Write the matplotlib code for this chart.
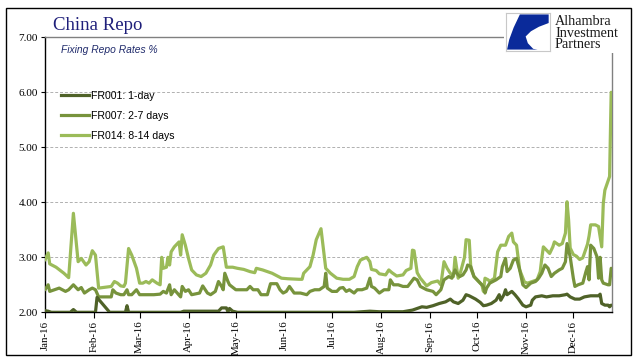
import matplotlib
matplotlib.use("Agg")
import matplotlib.pyplot as plt
import matplotlib.dates as mdates
from matplotlib.patches import Rectangle, Polygon
from matplotlib.lines import Line2D
import pandas as pd

# ---------------- data ----------------
fr014_dates = ["01-01","01-03","01-04","01-08","01-13","01-16","01-19","01-22","01-24","01-26","01-27",
               "01-29","01-31","02-02","02-04","02-12","02-14","02-16","02-18","02-20","02-21","02-23",
               "02-25","02-28","03-01","03-03","03-05","03-07","03-09","03-12","03-14","03-15","03-16",
               "03-18","03-19","03-20","03-21","03-23","03-26","03-27","03-28","03-30","04-01","04-03",
               "04-06","04-09","04-12","04-15","04-17","04-20","04-23","04-24","04-25","04-29","05-02",
               "05-06","05-08","05-10","05-13","05-14","05-18","05-20","05-24","05-28","05-30","06-03",
               "06-10","06-12","06-13","06-17","06-19","06-21","06-24","06-27","06-30","07-04","07-08",
               "07-12","07-15","07-17","07-19","07-23","07-25","07-26","07-29","07-31","08-04","08-06",
               "08-08","08-11","08-15","08-17","08-20","08-21","08-22","08-24","08-26","08-30","09-02",
               "09-06","09-08","09-10","09-12","09-14","09-16","09-17","09-19","09-20","09-23","09-24",
               "09-26","09-27","09-29","10-02","10-04","10-05","10-06","10-08","10-09","10-12","10-14",
               "10-16","10-19","10-21","10-23","10-24","10-26","10-27","10-28","10-31","11-02","11-05",
               "11-08","11-10","11-11","11-12","11-14","11-16","11-18","11-19","11-22","11-24","11-26",
               "11-27","11-28","11-29","12-01","12-03","12-05","12-07","12-10","12-11","12-12","12-15",
               "12-17","12-19","12-20","12-21","12-24","12-25"]
fr014_vals = [2.95,3.08,2.88,2.82,2.71,2.63,3.80,2.92,2.98,2.90,2.86,
              2.92,3.12,3.04,2.44,2.47,2.56,2.53,2.48,2.47,2.53,3.16,
              3.04,2.80,2.53,2.53,2.56,2.53,2.59,2.53,2.50,3.00,2.80,
              2.82,3.00,2.86,3.10,3.19,3.28,3.04,3.41,3.22,2.98,2.77,
              2.68,2.65,2.71,2.86,3.04,3.16,3.19,3.00,2.82,2.82,2.80,
              2.78,2.76,2.74,2.72,2.80,2.77,2.75,2.71,2.65,2.62,2.61,
              2.60,2.60,2.71,2.83,3.04,3.32,3.52,2.80,2.71,2.62,2.60,
              2.60,2.65,2.83,2.95,3.00,2.92,2.78,2.76,2.70,2.68,2.77,
              2.72,2.66,2.68,2.76,2.80,3.13,3.12,2.72,2.62,2.48,2.54,
              2.57,2.50,2.92,2.80,2.71,2.65,3.00,2.62,2.68,3.00,3.32,
              3.31,2.80,2.65,2.56,2.50,2.38,2.62,2.59,2.56,2.62,3.10,
              3.22,3.22,3.38,3.44,3.28,3.22,3.00,2.77,2.55,2.53,2.56,
              2.59,2.74,2.98,3.19,3.13,3.07,3.19,3.28,3.22,3.25,3.44,
              4.01,3.68,3.17,3.05,3.02,2.96,2.99,3.24,3.39,3.59,3.59,
              3.56,3.19,3.98,4.22,4.47,6.00]

fr007_dates = ["01-01","01-03","01-04","01-07","01-10","01-14","01-16","01-19","01-22","01-24","01-26",
               "01-29","01-31","02-02","02-04","02-12","02-13","02-15","02-18","02-20","02-22","02-23",
               "02-25","02-28","03-01","03-06","03-10","03-14","03-16","03-18","03-20","03-21","03-23",
               "03-27","03-28","03-30","04-01","04-03","04-08","04-10","04-13","04-15","04-18","04-20",
               "04-22","04-23","04-24","04-26","04-27","05-01","05-04","05-08","05-10","05-12","05-15",
               "05-17","05-21","05-23","05-27","05-29","05-31","06-02","06-04","06-07","06-11","06-15",
               "06-17","06-20","06-23","06-26","06-27","06-28","07-01","07-04","07-06","07-08","07-10",
               "07-12","07-15","07-17","07-20","07-23","07-25","07-26","07-28","07-31","08-03","08-06",
               "08-07","08-09","08-12","08-15","08-18","08-22","08-24","08-26","08-30","09-03","09-05",
               "09-08","09-10","09-13","09-15","09-17","09-18","09-20","09-22","09-24","09-25","09-27",
               "09-29","10-02","10-05","10-06","10-07","10-09","10-13","10-16","10-17","10-19","10-20",
               "10-22","10-24","10-26","10-28","10-30","11-01","11-04","11-07","11-09","11-11","11-13",
               "11-15","11-17","11-19","11-22","11-24","11-26","11-27","11-29","12-01","12-02","12-04",
               "12-07","12-09","12-10","12-11","12-12","12-14","12-16","12-17","12-18","12-19","12-20",
               "12-23","12-24","12-25"]
fr007_vals = [2.41,2.50,2.38,2.41,2.44,2.38,2.41,2.50,2.41,2.45,2.35,
              2.41,2.44,2.41,2.28,2.28,2.41,2.35,2.32,2.32,2.41,2.32,
              2.32,2.41,2.32,2.32,2.32,2.33,2.38,2.35,2.50,2.32,2.41,
              2.28,2.47,2.38,2.41,2.32,2.35,2.48,2.35,2.32,2.38,2.56,
              2.47,2.41,2.71,2.56,2.50,2.41,2.41,2.41,2.47,2.41,2.41,
              2.32,2.32,2.52,2.52,2.41,2.35,2.38,2.47,2.35,2.35,2.32,
              2.38,2.41,2.41,2.47,2.71,2.44,2.38,2.38,2.44,2.45,2.38,
              2.41,2.35,2.41,2.41,2.44,2.62,2.47,2.44,2.35,2.41,2.41,
              2.59,2.50,2.50,2.47,2.47,2.62,2.59,2.47,2.41,2.38,2.32,
              2.41,2.59,2.65,2.62,2.77,2.71,2.65,2.68,2.77,2.86,2.83,
              2.65,2.56,2.47,2.35,2.44,2.53,2.59,2.65,2.83,2.98,2.74,
              2.80,2.95,2.98,2.77,2.50,2.45,2.53,2.56,2.62,2.71,2.86,
              2.80,2.65,2.71,2.77,2.80,2.92,3.25,3.01,2.62,2.47,2.50,
              2.53,2.74,2.83,2.59,3.22,3.16,3.01,2.62,3.00,2.59,2.53,
              2.50,2.50,2.80]

fr001_dates = ["01-01","01-03","01-05","01-17","01-19","01-21","02-02","02-03","02-11","02-21","02-22",
               "02-23","03-27","03-29","04-20","04-22","04-25","04-26","04-27","04-29","05-02","07-15",
               "07-25","07-31","08-09","08-15","08-21","08-24","08-27","08-30","09-03","09-07","09-11",
               "09-14","09-16","09-19","09-22","09-24","09-26","09-30","10-03","10-05","10-07","10-10",
               "10-13","10-15","10-16","10-18","10-19","10-20","10-23","10-25","10-27","10-30","11-01",
               "11-04","11-05","11-07","11-11","11-14","11-18","11-22","11-26","11-27","11-29","12-02",
               "12-05","12-08","12-12","12-17","12-18","12-19","12-21","12-23","12-24","12-25"]
fr001_vals = [2.03,2.02,2.00,2.00,2.05,2.00,2.00,2.27,2.00,2.00,2.12,
              2.00,2.00,2.02,2.02,2.08,2.08,2.01,2.07,2.02,2.00,2.00,
              2.02,2.01,2.01,2.01,2.04,2.07,2.10,2.09,2.12,2.16,2.19,
              2.24,2.19,2.16,2.22,2.32,2.30,2.24,2.18,2.12,2.13,2.16,
              2.22,2.32,2.22,2.32,2.41,2.32,2.38,2.32,2.25,2.13,2.10,
              2.13,2.22,2.28,2.30,2.28,2.30,2.30,2.32,2.33,2.28,2.24,
              2.24,2.28,2.30,2.30,2.33,2.16,2.13,2.13,2.10,2.13]

series_labels = ["FR001: 1-day", "FR007: 2-7 days", "FR014: 8-14 days"]
series_colors = ["#4f6228", "#77933c", "#9bbb59"]
month_ticks = ["2016-%02d-01" % m for m in range(1, 13)]
y_ticks = [2, 3, 4, 5, 6, 7]

def to_dt(lst):
    return pd.to_datetime(["2016-" + s for s in lst])

SERIF = ["Liberation Serif", "DejaVu Serif"]
SANS = ["Liberation Sans", "DejaVu Sans"]

W, H = 641, 361
fig = plt.figure(figsize=(W / 100, H / 100), dpi=100)
fig.patch.set_facecolor("white")

def fx(px):
    return px / W

def fy(py):
    return 1 - py / H

ax = fig.add_axes([fx(45), fy(312.3), fx(611.7) - fx(45), fy(37.3) - fy(312.3)])

lw = 2.3
data = [(fr001_dates, fr001_vals), (fr007_dates, fr007_vals), (fr014_dates, fr014_vals)]
handles = []
for i in [2, 1, 0]:
    d, v = data[i]
    ax.plot(to_dt(d), v, color=series_colors[i], lw=lw, solid_joinstyle="round",
            solid_capstyle="round", zorder=3 + (2 - i))
for i in range(3):
    handles.append(Line2D([], [], color=series_colors[i], lw=lw))

ax.set_ylim(2, 7)
ax.set_xlim(pd.Timestamp("2016-01-01"), pd.Timestamp("2016-12-25 08:00"))
ax.set_yticks(y_ticks)
ax.set_yticklabels(["%.2f" % t for t in y_ticks], fontfamily=SERIF, fontsize=8)
ax.set_xticks(pd.to_datetime(month_ticks))
ax.xaxis.set_major_formatter(mdates.DateFormatter("%b-16"))
for lab in ax.get_xticklabels():
    lab.set_rotation(90)
    lab.set_fontfamily(SERIF)
    lab.set_fontsize(7.8)
ax.tick_params(axis="x", direction="out", length=4, width=0.8, pad=2, color="black")
ax.tick_params(axis="y", direction="out", length=3, width=0.8, pad=2, color="black")

for yv in [3, 4, 5, 6]:
    ax.axhline(yv, color="#b0b0b0", lw=0.7, ls=(0, (3, 2)), zorder=1)

ax.spines["left"].set_color("black")
ax.spines["bottom"].set_color("black")
ax.spines["left"].set_linewidth(1.0)
ax.spines["bottom"].set_linewidth(1.0)
ax.spines["top"].set_color("#808080")
ax.spines["right"].set_color("#808080")
ax.spines["top"].set_linewidth(1.0)
ax.spines["right"].set_linewidth(1.0)

leg = ax.legend(handles, series_labels, loc="upper left", bbox_to_anchor=(0.028, 0.805),
                frameon=False, prop={"family": SANS, "size": 7.6}, handlelength=2.7,
                handletextpad=0.15, labelspacing=0.95, borderpad=0, borderaxespad=0)

ax.text(0.028, 0.955, "Fixing Repo Rates %", transform=ax.transAxes, fontsize=7.4,
        style="italic", family=SANS, color="#1f2a6b", va="center", ha="left")

fig.text(fx(53), fy(25), "China Repo", fontsize=13.5, family=SERIF, color="#1f1f7a",
         va="center", ha="left")

# logo area (covers top-right part of the frame)
fig.patches.append(Rectangle((fx(504), fy(53)), fx(630) - fx(504), fy(9) - fy(53),
                             transform=fig.transFigure, facecolor="white", edgecolor="none",
                             zorder=5))
lax = fig.add_axes([fx(505.7), fy(50.7), fx(550) - fx(505.7), fy(13.3) - fy(50.7)], zorder=6)
lax.set_xlim(0, 1)
lax.set_ylim(0, 1)
lax.set_xticks([])
lax.set_yticks([])
for s in lax.spines.values():
    s.set_color("#c8c8c8")
    s.set_linewidth(0.8)
blue = "#0a2a9a"
lax.add_patch(Polygon([(0.32, 0.97), (0.97, 0.97), (0.97, 0.74), (0.75, 0.64), (0.57, 0.52),
                       (0.45, 0.38), (0.5, 0.2), (0.62, 0.05), (0.72, 0.03), (0.03, 0.03),
                       (0.08, 0.3), (0.18, 0.62), (0.32, 0.97)], closed=True,
                      facecolor=blue, edgecolor="none"))
for txt, by in [("Alhambra", 25), ("Investment", 36.7), ("Partners", 48.3)]:
    fig.text(fx(555), fy(by), txt, fontsize=10.2, family=SERIF, color="#1a1a1a",
             va="baseline", ha="left", zorder=7)

# outer frame
fig.patches.append(Rectangle((fx(6), fy(355)), fx(631) - fx(6), fy(8) - fy(355),
                             transform=fig.transFigure, facecolor="none", edgecolor="black",
                             lw=1.0, zorder=8))

fig.savefig("out.png", dpi=100, facecolor="white")
